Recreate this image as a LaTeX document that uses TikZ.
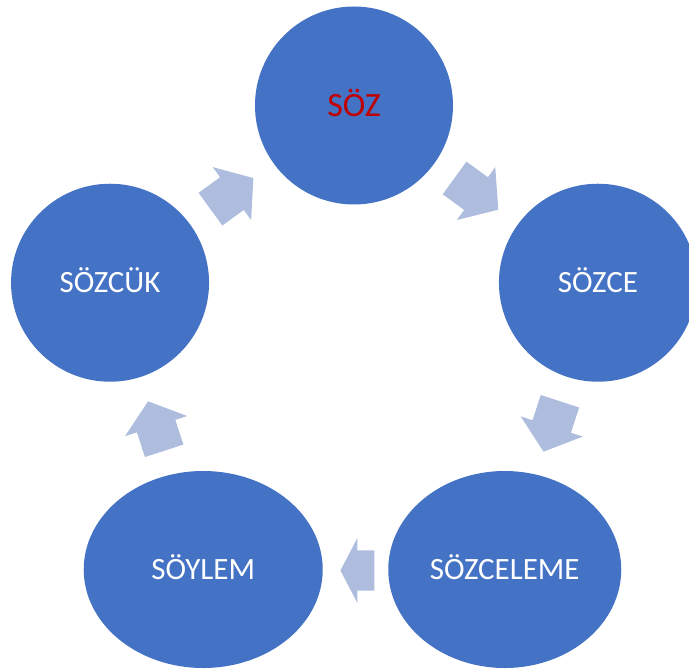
\documentclass[tikz,border=0pt]{standalone}
\usepackage{fontspec}
\setmainfont{Carlito}
\usetikzlibrary{shapes.geometric,shapes.arrows}

\definecolor{stageblue}{HTML}{4472C4}
\definecolor{turnblue}{RGB}{174,189,222}
\definecolor{sozred}{HTML}{C00000}

\begin{document}
\begin{tikzpicture}[
        stage/.style={ellipse, fill=stageblue, text=white, inner sep=0pt,
            minimum width=198pt, minimum height=198pt,
            font=\fontsize{31}{37}\selectfont, text height=20pt, text depth=0pt},
        turn/.style={single arrow, fill=turnblue, inner xsep=0pt, inner ysep=20pt,
            single arrow head extend=12.5pt, single arrow head indent=0pt, anchor=tail}
    ]
    \useasboundingbox (-354pt,-309pt) rectangle (335pt,362pt);
    \clip (-354pt,-309pt) rectangle (335pt,362pt);

    % the five stages, round the cycle
    \node [stage, text=sozred, font=\fontsize{34}{40}\selectfont, text height=22pt] (soz) at (90:256.5pt) {SÖZ};
    \node [stage] (sozce) at (18:256.5pt) {SÖZCE};
    \node [stage, minimum width=233pt, minimum height=197pt] (sozceleme) at (-54:256.5pt) {SÖZCELEME};
    \node [stage, minimum width=239pt, minimum height=197pt] (soylem) at (-126:256.5pt) {SÖYLEM};
    \node [stage] (sozcuk) at (162:256.5pt) {SÖZCÜK};

    % block arrows between them (placed by their tails)
    \node [turn, minimum height=54pt, single arrow tip angle=100, rotate=-36] (t1) at ([shift={(144:27pt)}]54:208pt) {};
    \node [turn, minimum height=53pt, single arrow tip angle=102, rotate=-108] (t2) at ([shift={(72:26.5pt)}]-18:208pt) {};
    \node [turn, minimum height=34pt, single arrow tip angle=125, rotate=180] (t3) at ([shift={(0:17pt)}]-89:208.5pt) {};
    \node [turn, minimum height=52pt, single arrow tip angle=103, rotate=108] (t4) at ([shift={(-72:26pt)}]-162:208pt) {};
    \node [turn, minimum height=53pt, single arrow tip angle=102, rotate=36] (t5) at ([shift={(-144:26.5pt)}]126:208pt) {};
\end{tikzpicture}
\end{document}
